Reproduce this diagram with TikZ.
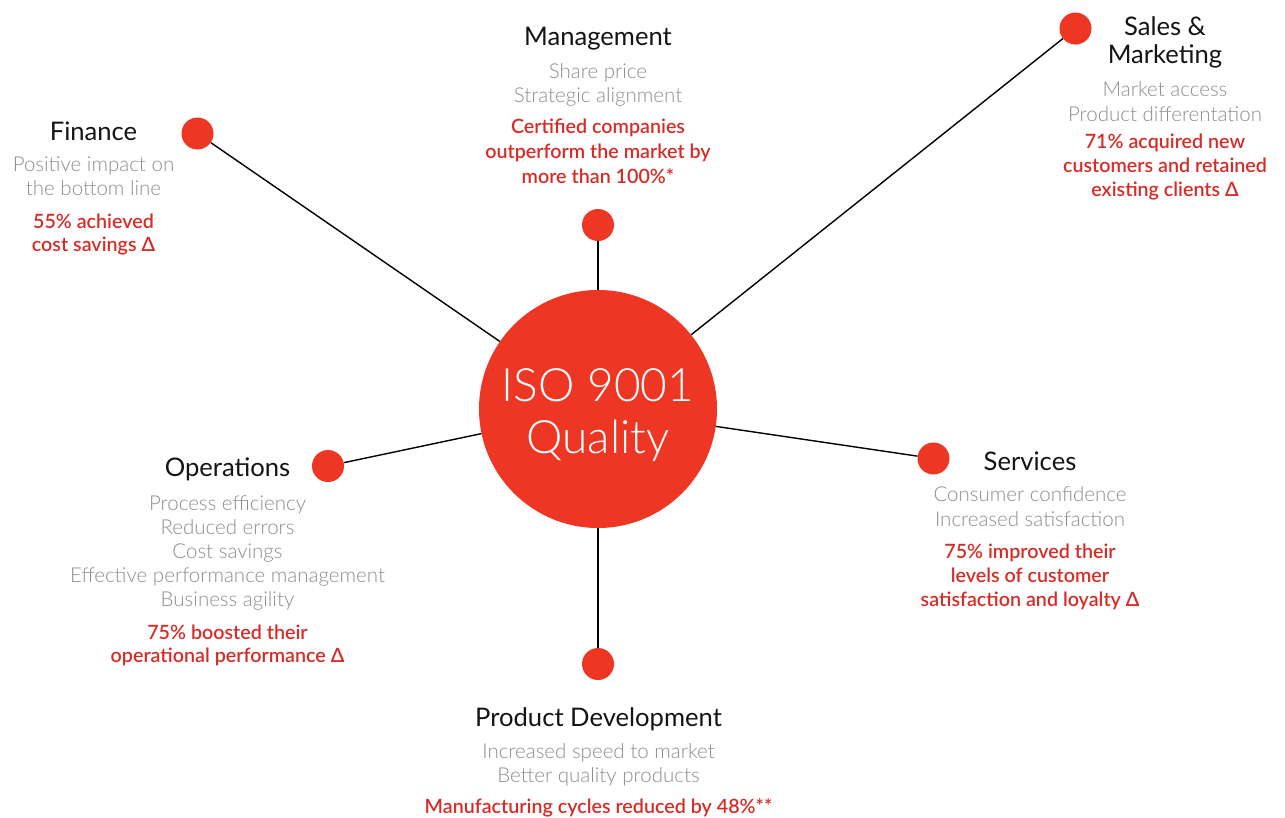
\documentclass[tikz,border=0pt]{standalone}
\usepackage{fontspec}
\setmainfont{Lato}
\newfontfamily\lightf{Lato Light}
\newfontfamily\semif{Lato Semibold}
\definecolor{isored}{RGB}{238,54,36}
\definecolor{statred}{RGB}{214,44,40}
\definecolor{subgray}{RGB}{140,140,140}
\definecolor{titleblack}{RGB}{20,20,20}
\tikzset{
  ttl/.style={font=\fontsize{25.6}{30}\selectfont, text=titleblack, inner sep=0pt},
  sub/.style={font=\lightf\fontsize{20.5}{24}\selectfont, text=subgray, inner sep=0pt},
  stat/.style={font=\semif\fontsize{19.7}{24}\selectfont, text=statred, inner sep=0pt},
  hubtxt/.style={font=\lightf\fontsize{46}{50}\selectfont, text=white, inner sep=0pt},
  dot/.style={circle, fill=isored, minimum size=32pt, inner sep=0pt},
  hubc/.style={circle, fill=isored, minimum size=238pt, inner sep=0pt},
  conn/.style={line width=1.4pt, black}
}
% #1 prefix, #2 x, #3 first baseline, #4 spacing, #5 style, #6 lines
\newcommand\txtlines[6]{%
  \foreach \l [count=\i from 0] in {#6}
    \node[#5, anchor=base] (#1-\i) at (#2, {#3+\i*#4}) {\l};}
\begin{document}
\begin{tikzpicture}[x=1pt,y=-1pt]
\useasboundingbox (0,0) rectangle (1285,817);
% hub
\node[hubc] (hub) at (598,409) {};
\node[hubtxt, anchor=base] (hubA) at (598,401.5) {ISO 9001};
\node[hubtxt, anchor=base] (hubB) at (598,453) {Quality};
% dots
\node[dot] (fin) at (197.5,133.5) {};
\node[dot] (mgt) at (598,225) {};
\node[dot] (sal) at (1075.5,28.5) {};
\node[dot] (ops) at (328,466) {};
\node[dot] (srv) at (933.5,458.5) {};
\node[dot] (prd) at (598,664) {};
% connectors
\draw[conn] (fin) -- (hub);
\draw[conn] (mgt) -- (hub);
\draw[conn] (sal) -- (hub);
\draw[conn] (ops) -- (hub);
\draw[conn] (srv) -- (hub);
\draw[conn] (prd) -- (hub);
% Finance
\txtlines{finT}{93.5}{140}{28}{ttl}{Finance}
\txtlines{finS}{93.5}{171.7}{24}{sub}{Positive impact on,the bottom line}
\txtlines{finR}{93.5}{228}{23.7}{stat}{55\% achieved,cost savings Δ}
% Management
\txtlines{mgtT}{598}{45}{28}{ttl}{Management}
\txtlines{mgtS}{598}{78}{24}{sub}{Share price,Strategic alignment}
\txtlines{mgtR}{598}{133}{25}{stat}{Certified companies,outperform the market by,more than 100\%*}
% Sales
\txtlines{salT}{1165}{35}{28.3}{ttl}{Sales \&,Marketing}
\txtlines{salS}{1165}{96.7}{25}{sub}{Market access,Product differentation}
\txtlines{salR}{1165}{148.3}{24.2}{stat}{71\% acquired new,customers and retained,existing clients Δ}
% Operations
\txtlines{opsT}{227.5}{476.7}{28}{ttl}{Operations}
\txtlines{opsS}{227.5}{510}{24.2}{sub}{Process efficiency,Reduced errors,Cost savings,Effective performance management,Business agility}
\txtlines{opsR}{227.5}{639.3}{23.4}{stat}{75\% boosted their,operational performance Δ}
% Services
\txtlines{srvT}{1030}{470}{28}{ttl}{Services}
\txtlines{srvS}{1030}{501.7}{25}{sub}{Consumer confidence,Increased satisfaction}
\txtlines{srvR}{1030}{558.3}{24.2}{stat}{75\% improved their,levels of customer,satisfaction and loyalty Δ}
% Product development
\txtlines{prdT}{598.5}{726}{28}{ttl}{Product Development}
\txtlines{prdS}{598.5}{758.3}{24.4}{sub}{Increased speed to market,Better quality products}
\txtlines{prdR}{598.5}{813.3}{24}{stat}{Manufacturing cycles reduced by 48\%**}
\end{tikzpicture}
\end{document}
